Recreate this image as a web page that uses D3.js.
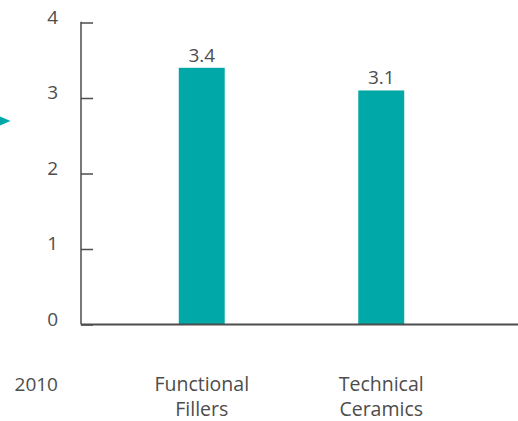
<!DOCTYPE html>
<html>
<head>
<meta charset="utf-8">
<script src="https://cdn.jsdelivr.net/npm/d3@7"></script>
<style>
  html, body { margin: 0; padding: 0; background: #fff; }
  svg { display: block; }
  text { font-family: "Open Sans", "Noto Sans", sans-serif; fill: #4d4d4d; font-weight: 400; }
</style>
</head>
<body>
<svg id="chart" width="518" height="421"></svg>
<script>
// Chart data
const categories = ["Functional Fillers", "Technical Ceramics"];
const categoryLines = [["Functional", "Fillers"], ["Technical", "Ceramics"]];
const values = [3.4, 3.1];
const valueLabels = ["3.4", "3.1"];
const yTicks = [0, 1, 2, 3, 4];
const yearLabel = "2010";

const W = 518, H = 421;
const svg = d3.select("#chart");

const axisX = 81, baseY = 324.5, topY = 22.5;
const barColor = "#00a8a7";
const axisColor = "#4d4d4d";

const y = d3.scaleLinear().domain([0, 4]).range([baseY, topY]);
const x = d3.scaleBand()
  .domain(categories)
  .range([112, 471])
  .paddingInner(0.744)
  .paddingOuter(0.372);

// Bars
svg.append("g").selectAll("rect")
  .data(values)
  .join("rect")
  .attr("x", (d, i) => x(categories[i]))
  .attr("width", x.bandwidth())
  .attr("y", d => y(d))
  .attr("height", d => y(0) - y(d))
  .attr("fill", barColor);

// Value labels above bars
svg.append("g").selectAll("text")
  .data(values)
  .join("text")
  .attr("x", (d, i) => x(categories[i]) + x.bandwidth() / 2)
  .attr("y", d => y(d) - 6)
  .attr("text-anchor", "middle")
  .attr("font-size", 19)
  .text((d, i) => valueLabels[i]);

// Y axis: inward ticks, labels sit just above each tick on the left
const yAxis = d3.axisRight(y)
  .tickValues(yTicks)
  .tickSize(12)
  .tickFormat("");
const gy = svg.append("g")
  .attr("transform", `translate(${axisX},0)`)
  .call(yAxis);
gy.select(".domain").remove();
gy.selectAll(".tick line").attr("stroke", axisColor).attr("stroke-width", 1.5);

svg.append("line")
  .attr("x1", axisX).attr("x2", axisX)
  .attr("y1", topY - 0.75).attr("y2", baseY)
  .attr("stroke", axisColor).attr("stroke-width", 1.5);

svg.append("g").selectAll("text")
  .data(yTicks)
  .join("text")
  .attr("x", 58)
  .attr("y", d => y(d) + 1)
  .attr("text-anchor", "end")
  .attr("font-size", 19)
  .text(d => d);

// Baseline along the bottom
svg.append("line")
  .attr("x1", axisX).attr("x2", W)
  .attr("y1", baseY).attr("y2", baseY)
  .attr("stroke", axisColor).attr("stroke-width", 2);

// Category labels (two lines each)
const cat = svg.append("g").selectAll("text")
  .data(categories)
  .join("text")
  .attr("text-anchor", "middle")
  .attr("font-size", 19.5)
  .attr("x", d => x(d) + x.bandwidth() / 2)
  .attr("y", 390.5);
cat.selectAll("tspan")
  .data((d, i) => categoryLines[i].map(t => ({ t, cx: x(d) + x.bandwidth() / 2 })))
  .join("tspan")
  .attr("x", d => d.cx)
  .attr("dy", (d, i) => i === 0 ? 0 : 25.5)
  .text(d => d.t);

// Year label
svg.append("text")
  .attr("x", 58)
  .attr("y", 390.5)
  .attr("text-anchor", "end")
  .attr("font-size", 19)
  .text(yearLabel);

// Pointer marker at the left edge
svg.append("path")
  .attr("d", "M0,116.5 L10.5,121 L0,125.5 Z")
  .attr("fill", barColor);
</script>
</body>
</html>
